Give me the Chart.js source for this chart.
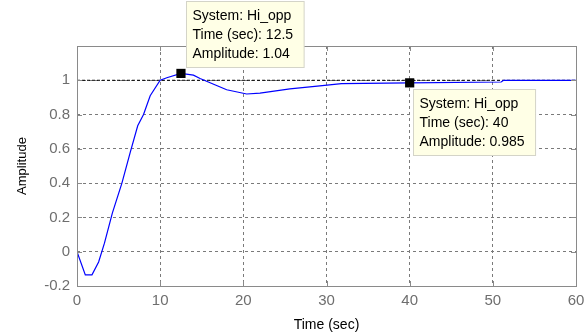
<!DOCTYPE html>
<html>
<head>
<meta charset="utf-8">
<script src="https://cdn.jsdelivr.net/npm/chart.js@4/dist/chart.umd.min.js"></script>
<style>
  html, body { margin: 0; padding: 0; background: #fff; }
  #wrap { width: 586px; height: 336px; }
</style>
</head>
<body>
<div id="wrap"><canvas id="stepChart"></canvas></div>
<script>
// step response
const timeSec = [0, 1, 1.8, 2.6, 3.3, 4.25, 5.4, 6.4, 7.3, 8.0, 8.8, 10, 10.8, 12.5, 14, 14.8, 16.5, 18, 20.4, 22, 25.6, 29.2, 31.8, 40, 51, 51.3, 60];
const amplitude = [0, -0.135, -0.135, -0.06, 0.05, 0.225, 0.40, 0.58, 0.735, 0.80, 0.91, 1.0, 1.015, 1.04, 1.03, 1.01, 0.975, 0.945, 0.92, 0.925, 0.95, 0.967, 0.98, 0.985, 0.99, 1.0, 1.0];

// steady state reference line
const steadyTime = [0, 60];
const steadyValue = [1, 1];

// data tips
const tipSystem = 'Hi_opp';
const tipTimes = [12.5, 40];
const tipAmps = ['1.04', '0.985'];

const xTicks = [0, 10, 20, 30, 40, 50, 60];
const yTicks = [-0.2, 0, 0.2, 0.4, 0.6, 0.8, 1, 1.2];
const yTickLabels = ['-0.2', '0', '0.2', '0.4', '0.6', '0.8', '1', ''];

const toPoints = (xs, ys) => xs.map((x, i) => ({x: x, y: Number(ys[i])}));

const frameColor = '#8a8a8a';
const gridColor = '#7a7a7a';

// box round the plot plus the inward tick marks
const framePlugin = {
    id: 'frame',
    afterDatasetsDraw(chart) {
        const ctx = chart.ctx;
        const a = chart.chartArea;
        const xs = chart.scales.x, ys = chart.scales.y;
        ctx.save();
        ctx.strokeStyle = frameColor;
        ctx.lineWidth = 1;
        ctx.strokeRect(Math.round(a.left) + 0.5, Math.round(a.top) + 0.5,
            Math.round(a.right - a.left), Math.round(a.bottom - a.top));
        ctx.beginPath();
        for (let v of xTicks) {
            const px = Math.round(xs.getPixelForValue(v)) + 0.5;
            ctx.moveTo(px, a.bottom); ctx.lineTo(px, a.bottom - 5);
            ctx.moveTo(px, a.top); ctx.lineTo(px, a.top + 5);
        }
        for (let v of yTicks) {
            const py = Math.round(ys.getPixelForValue(v)) + 0.5;
            ctx.moveTo(a.left, py); ctx.lineTo(a.left + 5, py);
            ctx.moveTo(a.right, py); ctx.lineTo(a.right - 5, py);
        }
        ctx.stroke();
        ctx.restore();
    }
};

// yellow data tip boxes
const tipOffsets = [{dx: 5, dy: -72}, {dx: 3, dy: 6}];
const tipPlugin = {
    id: 'datatips',
    afterDraw(chart) {
        const ctx = chart.ctx;
        const xs = chart.scales.x, ys = chart.scales.y;
        ctx.save();
        ctx.font = '14px "Liberation Sans", Arial, sans-serif';
        tipTimes.forEach((t, i) => {
            const lines = ['System: ' + tipSystem, 'Time (sec): ' + t, 'Amplitude: ' + tipAmps[i]];
            const mx = xs.getPixelForValue(t), my = ys.getPixelForValue(Number(tipAmps[i]));
            const w = Math.max(...lines.map(s => ctx.measureText(s).width)) + 17;
            const bx = Math.round(mx + tipOffsets[i].dx) + 0.5;
            const by = Math.round(my + tipOffsets[i].dy) + 0.5;
            ctx.fillStyle = '#ffffe6';
            ctx.fillRect(bx, by, w, 66);
            ctx.strokeStyle = '#d4d4c8';
            ctx.lineWidth = 1;
            ctx.strokeRect(bx, by, w, 66);
            ctx.fillStyle = '#000';
            ctx.textBaseline = 'alphabetic';
            lines.forEach((s, j) => ctx.fillText(s, bx + 6, by + 18 + j * 19));
        });
        ctx.restore();
    }
};

new Chart(document.getElementById('stepChart'), {
    type: 'scatter',
    data: {
        datasets: [{
            label: 'markers',
            data: toPoints(tipTimes, tipAmps),
            pointStyle: 'rect',
            pointRadius: 6.5,
            backgroundColor: '#000',
            borderColor: '#000',
            borderWidth: 0,
            order: 0
        }, {
            label: tipSystem,
            data: toPoints(timeSec, amplitude),
            showLine: true,
            borderColor: '#0000ff',
            borderWidth: 1.2,
            pointRadius: 0,
            tension: 0,
            order: 1
        }, {
            label: 'steady',
            data: toPoints(steadyTime, steadyValue),
            showLine: true,
            borderColor: '#000',
            borderWidth: 1,
            borderDash: [3, 2],
            pointRadius: 0,
            order: 2
        }]
    },
    options: {
        responsive: true,
        maintainAspectRatio: false,
        animation: false,
        events: [],
        layout: { padding: { left: 0, right: 10, top: 46, bottom: 0 } },
        plugins: { legend: { display: false }, tooltip: { enabled: false } },
        scales: {
            x: {
                type: 'linear',
                min: 0, max: 60,
                afterBuildTicks: s => { s.ticks = xTicks.map(v => ({value: v})); },
                afterFit: s => { s.height = 50; s.paddingRight = 0; s.paddingLeft = 0; },
                grid: { color: gridColor, lineWidth: 1, drawTicks: false },
                border: { display: false, dash: [3, 3] },
                ticks: { color: '#6e6e6e', padding: 6, maxRotation: 0,
                    font: { family: '"Liberation Sans", Arial', size: 15 } },
                title: { display: true, text: 'Time (sec)', color: '#000',
                    padding: { top: 0, bottom: 2 },
                    font: { family: '"Liberation Sans", Arial', size: 14 } }
            },
            y: {
                type: 'linear',
                min: -0.2, max: 1.2,
                afterBuildTicks: s => { s.ticks = yTicks.map(v => ({value: v})); },
                afterFit: s => { s.width = 77; s.paddingTop = 0; s.paddingBottom = 0; },
                grid: { color: gridColor, lineWidth: 1, drawTicks: false },
                border: { display: false, dash: [3, 3] },
                ticks: { color: '#6e6e6e', padding: 7,
                    font: { family: '"Liberation Sans", Arial', size: 15 },
                    callback: (v, i) => yTickLabels[i] },
                title: { display: true, text: 'Amplitude', color: '#000',
                    padding: { top: 15, bottom: 0 },
                    font: { family: '"Liberation Sans", Arial', size: 13 } }
            }
        }
    },
    plugins: [framePlugin, tipPlugin]
});
</script>
</body>
</html>
